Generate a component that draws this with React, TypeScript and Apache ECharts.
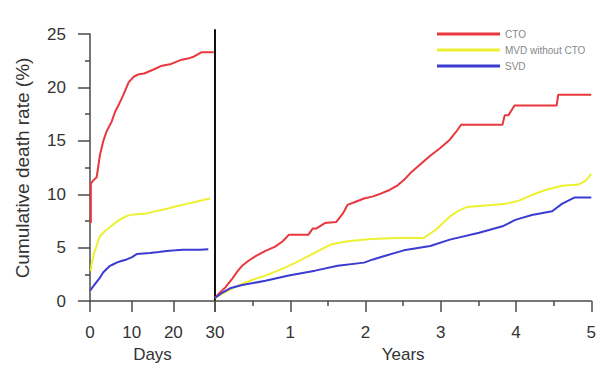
import React, { useEffect, useRef } from "react";
import * as echarts from "echarts";

const legendNames = ["CTO", "MVD without CTO", "SVD"];
const colors = ["#e8383d", "#eef032", "#3b3bd1"];

const dayTicks = [0, 10, 20, 30];
const yearTicks = [0, 1, 2, 3, 4, 5];

// Days panel (0-30 days)
const ctoDays = [0.2, 0.2, 0.8, 1.6, 2.4, 3.2, 4, 5.2, 6, 6.8, 8, 9.3, 10.5, 11.5, 13, 15.4, 17, 19.5, 22, 23.5, 25, 26.8, 29.7];
const ctoDaysRate = [7.3, 11, 11.3, 11.6, 13.7, 15, 15.9, 16.8, 17.7, 18.3, 19.3, 20.5, 21, 21.2, 21.3, 21.7, 22, 22.2, 22.6, 22.7, 22.9, 23.3, 23.3];

const mvdDays = [0.2, 0.4, 1, 1.6, 2.4, 3.2, 4, 5, 6, 7, 8, 9, 10.4, 12, 13.6, 15, 16.8, 18.5, 20, 21.5, 23.2, 25, 26.4, 28.8];
const mvdDaysRate = [2.8, 3.5, 4.5, 5.2, 6.1, 6.4, 6.7, 7.0, 7.3, 7.6, 7.8, 8.0, 8.1, 8.15, 8.2, 8.35, 8.5, 8.65, 8.8, 8.95, 9.1, 9.25, 9.4, 9.6];

const svdDays = [0.2, 0.4, 1, 1.6, 2.4, 3.2, 4, 4.8, 5.6, 6.4, 7.5, 8.8, 10, 11.2, 12.8, 14.4, 16.5, 18.4, 20.5, 22.4, 26.4, 28.4];
const svdDaysRate = [1.0, 1.2, 1.5, 1.8, 2.2, 2.7, 3.0, 3.3, 3.45, 3.6, 3.75, 3.9, 4.1, 4.4, 4.45, 4.5, 4.6, 4.7, 4.75, 4.8, 4.8, 4.85];

// Years panel (30 days - 5 years)
const ctoYears = [0, 0.05, 0.14, 0.22, 0.3, 0.36, 0.45, 0.54, 0.67, 0.8, 0.9, 0.98, 1.24, 1.3, 1.35, 1.46, 1.61, 1.7, 1.76, 1.87, 1.98, 2.1, 2.2, 2.32, 2.42, 2.52, 2.6, 2.73, 2.86, 2.99, 3.12, 3.2, 3.27, 3.82, 3.85, 3.9, 3.98, 4.04, 4.54, 4.56, 5.0];
const ctoYearsRate = [0.3, 0.7, 1.3, 2.0, 2.8, 3.3, 3.8, 4.2, 4.7, 5.1, 5.6, 6.2, 6.2, 6.8, 6.8, 7.3, 7.4, 8.2, 9.0, 9.3, 9.6, 9.8, 10.05, 10.4, 10.8, 11.4, 12.0, 12.8, 13.6, 14.3, 15.1, 15.8, 16.5, 16.5, 17.4, 17.4, 18.3, 18.3, 18.3, 19.3, 19.3];

const mvdYears = [0, 0.1, 0.2, 0.36, 0.5, 0.67, 0.82, 0.98, 1.1, 1.24, 1.4, 1.54, 1.76, 2.07, 2.42, 2.77, 2.94, 3.03, 3.12, 3.22, 3.34, 3.6, 3.86, 4.04, 4.2, 4.39, 4.61, 4.83, 4.93, 5.0];
const mvdYearsRate = [0.3, 0.7, 1.1, 1.6, 2.0, 2.4, 2.8, 3.3, 3.7, 4.2, 4.8, 5.3, 5.6, 5.8, 5.9, 5.9, 6.7, 7.3, 7.9, 8.4, 8.8, 8.95, 9.1, 9.4, 9.9, 10.4, 10.8, 10.9, 11.3, 11.9];

const svdYears = [0, 0.1, 0.2, 0.36, 0.67, 0.98, 1.33, 1.63, 1.98, 2.1, 2.24, 2.51, 2.86, 3.12, 3.51, 3.82, 3.99, 4.21, 4.48, 4.61, 4.78, 5.0];
const svdYearsRate = [0.3, 0.8, 1.2, 1.5, 1.9, 2.4, 2.85, 3.3, 3.6, 3.9, 4.2, 4.75, 5.15, 5.75, 6.4, 7.0, 7.6, 8.05, 8.4, 9.1, 9.7, 9.7];

const zip = (xs: number[], ys: number[]) => xs.map((x, i) => [x, ys[i]]);

const FONT = "Arial, Liberation Sans, sans-serif";
const AXIS_COLOR = "#4a4a4a";
const LABEL_COLOR = "#333";

export default function App() {
  const ref = useRef<HTMLDivElement>(null);
  useEffect(() => {
    if (!ref.current) return;
    const chart = echarts.init(ref.current, null, { renderer: "svg" });
    const line = (name: string, color: string, data: number[][], idx: number) => ({
      type: "line",
      name,
      xAxisIndex: idx,
      yAxisIndex: idx,
      data,
      symbol: "none",
      lineStyle: { color, width: 2 },
      itemStyle: { color },
      z: 3,
    });
    const labelStyle = { color: LABEL_COLOR, fontSize: 17, fontFamily: FONT };
    chart.setOption({
      animation: false,
      backgroundColor: "#fff",
      legend: {
        data: legendNames,
        orient: "vertical",
        left: 432,
        top: 24,
        icon: "rect",
        itemWidth: 63,
        itemHeight: 3,
        itemGap: 6,
        textStyle: { fontSize: 10, color: "#888", lineHeight: 10, fontFamily: FONT },
      },
      grid: [
        { left: 90, top: 34, width: 125, height: 272 },
        { left: 215, top: 30, width: 381, height: 276 },
      ],
      xAxis: [
        {
          gridIndex: 0,
          type: "value",
          min: dayTicks[0],
          max: dayTicks[dayTicks.length - 1],
          interval: 10,
          name: "Days",
          nameLocation: "middle",
          nameGap: 41,
          nameTextStyle: { color: LABEL_COLOR, fontSize: 17, fontFamily: FONT },
          axisLine: { lineStyle: { color: AXIS_COLOR, width: 1.5 } },
          axisTick: { length: 11, lineStyle: { color: AXIS_COLOR, width: 1.5 } },
          axisLabel: { ...labelStyle, margin: 23 },
          splitLine: { show: false },
        },
        {
          gridIndex: 1,
          type: "value",
          min: yearTicks[0],
          max: yearTicks[yearTicks.length - 1],
          interval: 1,
          name: "Years",
          nameLocation: "middle",
          nameGap: 44,
          nameTextStyle: { color: LABEL_COLOR, fontSize: 17, fontFamily: FONT },
          axisLine: { lineStyle: { color: AXIS_COLOR, width: 1.5 } },
          axisTick: { length: 11, lineStyle: { color: AXIS_COLOR, width: 1.5 } },
          minorTick: { show: true, splitNumber: 2, length: 5, lineStyle: { color: AXIS_COLOR, width: 1.5 } },
          axisLabel: { ...labelStyle, margin: 23, formatter: (v: number) => (v === 0 ? "" : String(v)) },
          splitLine: { show: false },
        },
      ],
      yAxis: [
        {
          gridIndex: 0,
          type: "value",
          min: 0,
          max: 25,
          interval: 5,
          axisLine: { show: true, lineStyle: { color: AXIS_COLOR, width: 1.5 } },
          axisTick: { show: true, length: 12, lineStyle: { color: AXIS_COLOR, width: 1.5 } },
          minorTick: { show: true, splitNumber: 2, length: 5, lineStyle: { color: AXIS_COLOR, width: 1.5 } },
          axisLabel: { ...labelStyle, margin: 24 },
          splitLine: { show: false },
        },
        {
          gridIndex: 1,
          type: "value",
          min: 0,
          max: 25 * 276 / 272,
          axisLine: { show: true, lineStyle: { color: "#111", width: 2 } },
          axisTick: { show: false },
          axisLabel: { show: false },
          splitLine: { show: false },
        },
      ],
      graphic: [
        {
          type: "text",
          x: 22,
          y: 168,
          rotation: Math.PI / 2,
          style: {
            text: "Cumulative death rate (%)",
            fill: LABEL_COLOR,
            fontSize: 19,
            fontFamily: FONT,
            align: "center",
            verticalAlign: "middle",
          },
        },
      ],
      series: [
        line(legendNames[0], colors[0], zip(ctoDays, ctoDaysRate), 0),
        line(legendNames[1], colors[1], zip(mvdDays, mvdDaysRate), 0),
        line(legendNames[2], colors[2], zip(svdDays, svdDaysRate), 0),
        line(legendNames[0], colors[0], zip(ctoYears, ctoYearsRate), 1),
        line(legendNames[1], colors[1], zip(mvdYears, mvdYearsRate), 1),
        line(legendNames[2], colors[2], zip(svdYears, svdYearsRate), 1),
      ],
    });
    return () => chart.dispose();
  }, []);
  return <div ref={ref} style={{ position: "fixed", left: 0, top: 0, width: 599, height: 368 }} />;
}
